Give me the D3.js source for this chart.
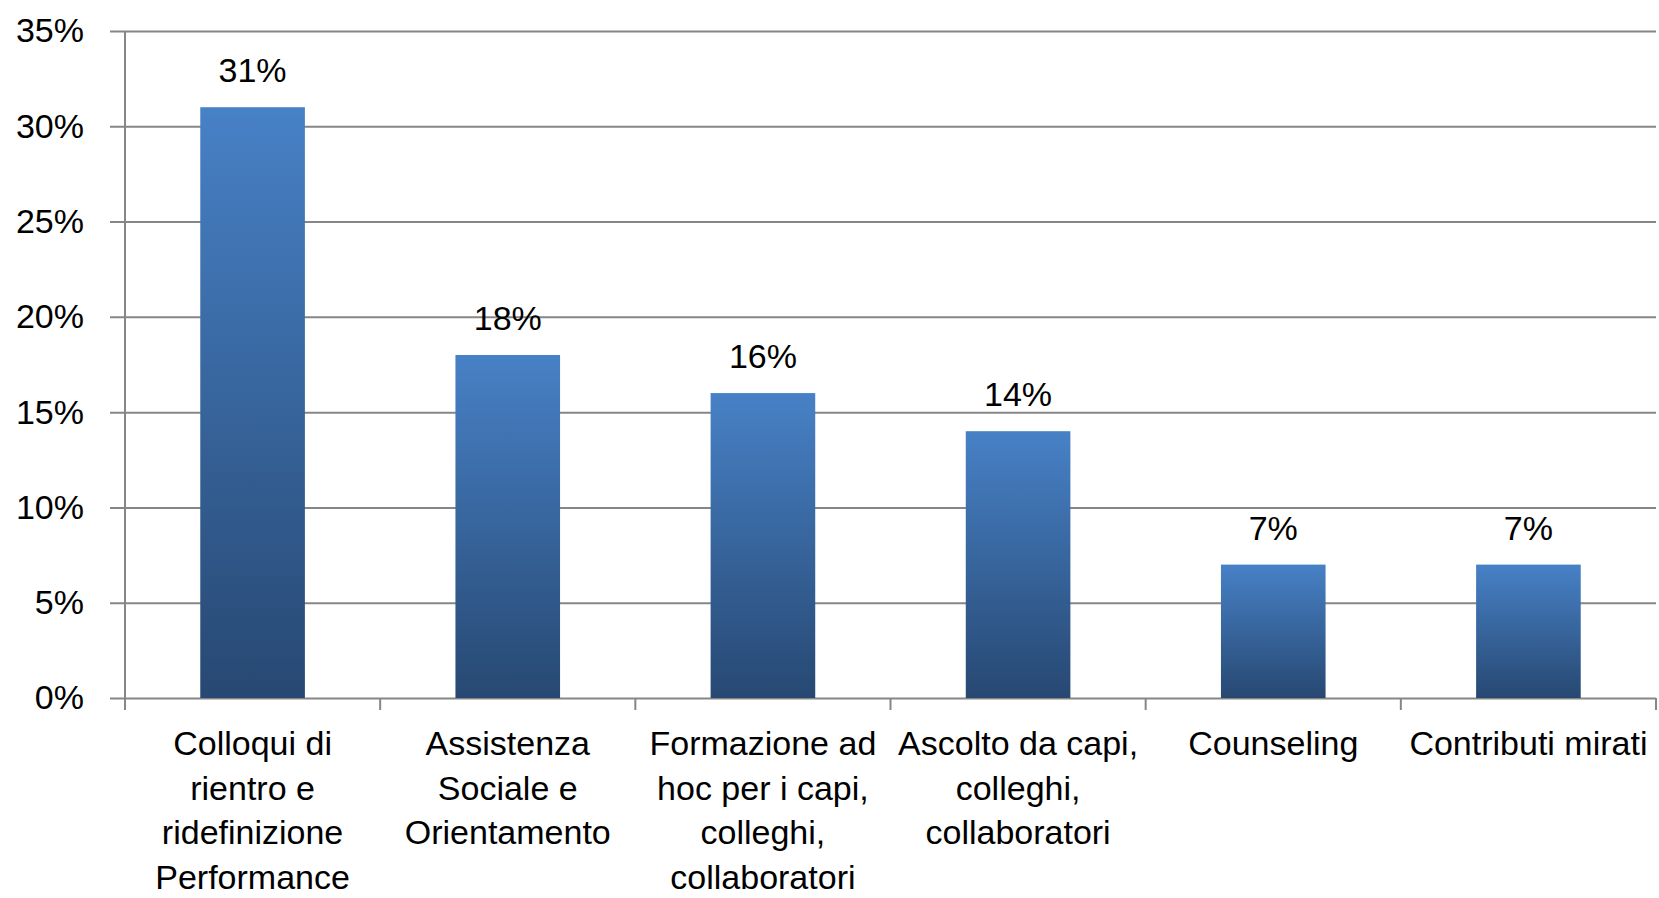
<!DOCTYPE html>
<html>
<head>
<meta charset="utf-8">
<script src="https://cdn.jsdelivr.net/npm/d3@7"></script>
<style>
  html, body { margin: 0; padding: 0; background: #fff; }
  svg { display: block; }
  text { font-family: "Liberation Sans", Arial, sans-serif; fill: #000; }
</style>
</head>
<body>
<div id="chart"></div>
<script>
// data
var categories = [
    'Colloqui di rientro e ridefinizione Performance',
    'Assistenza Sociale e Orientamento',
    'Formazione ad hoc per i capi, colleghi, collaboratori',
    'Ascolto da capi, colleghi, collaboratori',
    'Counseling',
    'Contributi mirati'
]
// how each category label wraps in the original
var categoryLines = [
    ['Colloqui di', 'rientro e', 'ridefinizione', 'Performance'],
    ['Assistenza', 'Sociale e', 'Orientamento'],
    ['Formazione ad', 'hoc per i capi,', 'colleghi,', 'collaboratori'],
    ['Ascolto da capi,', 'colleghi,', 'collaboratori'],
    ['Counseling'],
    ['Contributi mirati']
]
var values = [0.31, 0.18, 0.16, 0.14, 0.07, 0.07]
var yTicks = [0, 0.05, 0.10, 0.15, 0.20, 0.25, 0.30, 0.35]

var svgWidth = 1659,
    svgHeight = 898

var plot = { left: 125, right: 1656, top: 31, bottom: 698 }
var fontSize = 34,
    lineGap = 44.5,
    gridColor = '#868686'

var svg = d3.select('#chart').append('svg')
    .attr('width', svgWidth)
    .attr('height', svgHeight)

// bar gradient, light blue on top to dark navy at the bottom
var grad = svg.append('defs').append('linearGradient')
    .attr('id', 'barGrad')
    .attr('x1', 0).attr('y1', 0)
    .attr('x2', 0).attr('y2', 1)
grad.append('stop').attr('offset', '0%').attr('stop-color', '#4781c6')
grad.append('stop').attr('offset', '100%').attr('stop-color', '#274872')

var xScale = d3.scaleBand()
    .domain(categories)
    .range([plot.left, plot.right])
    .padding(0)

var yScale = d3.scaleLinear()
    .domain([0, 0.35])
    .range([plot.bottom, plot.top])

var barWidth = xScale.bandwidth() * 0.41

// Y axis with gridlines
var yAxis = svg.append('g')
    .attr('transform', 'translate(' + plot.left + ',0)')
    .call(d3.axisLeft(yScale)
        .tickValues(yTicks)
        .tickFormat(d3.format('.0%'))
        .tickSizeInner(-(plot.right - plot.left))
        .tickSizeOuter(0)
        .tickPadding(41))

yAxis.select('.domain').remove()
yAxis.selectAll('.tick line')
    .attr('x1', -15)
    .attr('stroke', gridColor)
    .attr('stroke-width', 2)
yAxis.selectAll('.tick text')
    .attr('font-size', fontSize)
    .attr('font-family', '"Liberation Sans", Arial, sans-serif')
    .attr('fill', '#000')

// vertical axis line
svg.append('line')
    .attr('x1', plot.left).attr('x2', plot.left)
    .attr('y1', plot.top).attr('y2', plot.bottom + 12)
    .attr('stroke', gridColor)
    .attr('stroke-width', 2)

// x tick marks sit on the band boundaries
var boundaries = categories.map(c => xScale(c)).concat([plot.right])
svg.append('g').selectAll('line')
    .data(boundaries.slice(1))
    .enter().append('line')
    .attr('x1', d => d).attr('x2', d => d)
    .attr('y1', plot.bottom).attr('y2', plot.bottom + 12)
    .attr('stroke', gridColor)
    .attr('stroke-width', 2)

// bars
svg.append('g').selectAll('rect')
    .data(values)
    .enter().append('rect')
    .attr('x', (d, i) => xScale(categories[i]) + (xScale.bandwidth() - barWidth) / 2)
    .attr('y', d => yScale(d))
    .attr('width', barWidth)
    .attr('height', d => yScale(0) - yScale(d))
    .attr('fill', 'url(#barGrad)')

// value labels above bars
svg.append('g').selectAll('text')
    .data(values)
    .enter().append('text')
    .attr('x', (d, i) => xScale(categories[i]) + xScale.bandwidth() / 2)
    .attr('y', d => yScale(d) - 25)
    .attr('text-anchor', 'middle')
    .attr('font-size', fontSize)
    .text(d => Math.round(d * 100) + '%')

// category labels, wrapped like the original
var catLabels = svg.append('g').selectAll('text')
    .data(categoryLines)
    .enter().append('text')
    .attr('text-anchor', 'middle')
    .attr('font-size', fontSize)

catLabels.selectAll('tspan')
    .data((lines, i) => lines.map(l => ({ line: l, i: i })))
    .enter().append('tspan')
    .attr('x', d => xScale(categories[d.i]) + xScale.bandwidth() / 2)
    .attr('y', (d, j) => 755 + j * lineGap)
    .text(d => d.line)
</script>
</body>
</html>
